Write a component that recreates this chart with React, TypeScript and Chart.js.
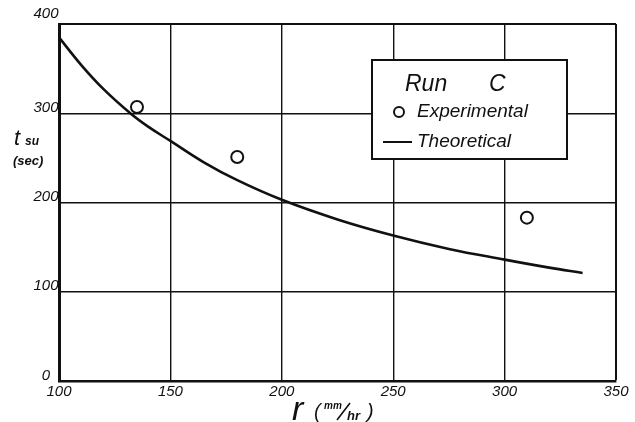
import React, { useEffect, useRef } from "react";
import { Chart, registerables } from "chart.js";

Chart.register(...registerables);

// Theoretical curve (r in mm/hr, t_su in sec)
const theoryR = [100, 110, 120, 132, 140, 150, 165, 180, 200, 225, 250, 275, 300, 320, 335];
const theoryT = [385, 354, 327, 300, 285, 269, 245, 225, 203, 181, 163, 148, 136, 127, 121];

// Experimental points
const expR = [135, 180, 310];
const expT = [307, 251, 183];

const xTicks = [100, 150, 200, 250, 300, 350];
const yTicks = [0, 100, 200, 300, 400];

const legendTitle = ["Run", "C"];
const FONT = "'Liberation Sans', Arial, sans-serif";

const decorPlugin = {
  id: "decor",
  afterDraw(chart: any) {
    const { ctx, chartArea } = chart;
    const ys = chart.scales.y;
    const L = chartArea.left;
    const B = chartArea.bottom;
    ctx.save();
    ctx.fillStyle = "#111";
    ctx.strokeStyle = "#111";

    // y tick labels, sitting just above their grid lines
    ctx.font = `italic 15px ${FONT}`;
    ctx.textAlign = "center";
    ctx.textBaseline = "bottom";
    ys.ticks.forEach((t: any) => {
      const py = ys.getPixelForValue(t.value);
      const off = t.value === 400 ? -3 : 2;
      ctx.fillText(String(t.value), L - 13, py + off);
    });

    // y axis title: t_su (sec)
    ctx.textAlign = "left";
    ctx.textBaseline = "alphabetic";
    ctx.font = `italic 22px ${FONT}`;
    ctx.fillText("t", L - 45, 145);
    ctx.font = `italic bold 12px ${FONT}`;
    ctx.fillText("su", L - 34, 145);
    ctx.font = `italic bold 13px ${FONT}`;
    ctx.fillText("(sec)", L - 46, 165);

    // x axis title: r (mm/hr)
    ctx.font = `italic 34px ${FONT}`;
    ctx.fillText("r", 292, B + 39);
    ctx.font = `italic 20px ${FONT}`;
    ctx.fillText("(", 314, B + 37);
    ctx.fillText(")", 367, B + 37);
    ctx.font = `italic bold 10px ${FONT}`;
    ctx.fillText("mm", 324, B + 28);
    ctx.font = `italic bold 13px ${FONT}`;
    ctx.fillText("hr", 347, B + 39);
    ctx.lineWidth = 1.6;
    ctx.beginPath();
    ctx.moveTo(350, B + 22);
    ctx.lineTo(337, B + 39);
    ctx.stroke();

    // legend box
    const bx = 372, by = 60, bw = 195, bh = 99;
    ctx.fillStyle = "#fff";
    ctx.fillRect(bx, by, bw, bh);
    ctx.fillStyle = "#111";
    ctx.lineWidth = 2;
    ctx.strokeRect(bx, by, bw, bh);

    ctx.font = `italic 23px ${FONT}`;
    ctx.fillText(legendTitle[0], 405, 91);
    ctx.fillText(legendTitle[1], 489, 91);

    const ds = chart.data.datasets;
    ctx.font = `italic 19px ${FONT}`;
    // Experimental
    ctx.beginPath();
    ctx.lineWidth = 2;
    ctx.arc(399, 112, 5, 0, Math.PI * 2);
    ctx.stroke();
    ctx.fillText(ds[0].label, 417, 117);
    // Theoretical
    ctx.lineWidth = 2;
    ctx.beginPath();
    ctx.moveTo(383, 142);
    ctx.lineTo(412, 142);
    ctx.stroke();
    ctx.fillText(ds[1].label, 417, 147);

    ctx.restore();
  },
};

export default function App() {
  const ref = useRef<HTMLCanvasElement | null>(null);

  useEffect(() => {
    if (!ref.current) return;
    const chart = new Chart(ref.current, {
      type: "scatter",
      data: {
        datasets: [
          {
            label: "Experimental",
            data: expR.map((x, i) => ({ x, y: expT[i] })),
            showLine: false,
            pointStyle: "circle",
            pointRadius: 6,
            pointBorderWidth: 2,
            pointBorderColor: "#111",
            pointBackgroundColor: "#fff",
            order: 0,
          },
          {
            label: "Theoretical",
            data: theoryR.map((x, i) => ({ x, y: theoryT[i] })),
            showLine: true,
            pointRadius: 0,
            borderColor: "#111",
            borderWidth: 2.6,
            tension: 0.4,
            order: 1,
          },
        ],
      },
      options: {
        animation: false,
        responsive: false,
        devicePixelRatio: 1,
        layout: { padding: { top: 24, right: 19, left: 0, bottom: 0 } },
        plugins: {
          legend: { display: false },
          tooltip: { enabled: false },
        },
        scales: {
          x: {
            type: "linear",
            min: 100,
            max: 350,
            afterBuildTicks: (s: any) => {
              s.ticks = xTicks.map((v) => ({ value: v }));
            },
            afterFit: (s: any) => {
              s.height = 41;
            },
            ticks: {
              color: "#111",
              padding: 2,
              maxRotation: 0,
              font: { family: FONT, size: 15, style: "italic" },
            },
            grid: {
              color: "#111",
              lineWidth: (c: any) => (c.tick && c.tick.value === 350 ? 2 : 1.4),
              drawTicks: false,
            },
            border: { display: true, color: "#111", width: 2.5 },
          },
          y: {
            type: "linear",
            min: 0,
            max: 400,
            afterBuildTicks: (s: any) => {
              s.ticks = yTicks.map((v) => ({ value: v }));
            },
            afterFit: (s: any) => {
              s.width = 59;
            },
            ticks: { display: false },
            grid: {
              color: "#111",
              lineWidth: (c: any) => (c.tick && c.tick.value === 400 ? 2 : 1.4),
              drawTicks: false,
            },
            border: { display: true, color: "#111", width: 3 },
          },
        },
      },
      plugins: [decorPlugin],
    });
    return () => chart.destroy();
  }, []);

  return (
    <div style={{ position: "absolute", left: 0, top: 0, width: 635, height: 422, background: "#fff" }}>
      <canvas ref={ref} width={635} height={422} style={{ width: 635, height: 422, display: "block" }} />
    </div>
  );
}
